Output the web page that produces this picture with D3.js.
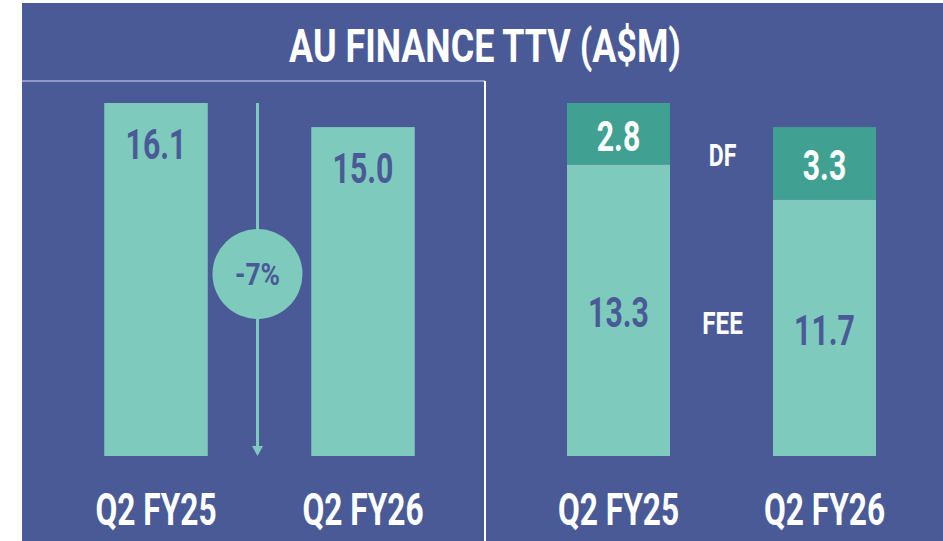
<!DOCTYPE html>
<html lang="en">
<head>
    <meta charset="UTF-8">
    <title>AU Finance TTV (A$M)</title>
    <script src="https://d3js.org/d3.v7.min.js"></script>
    <style>
        body { margin: 0; background: #fff; }
        svg { display: block; }
        text { font-family: Roboto, "DejaVu Sans", sans-serif; font-weight: 700; }
    </style>
</head>
<body>
    <svg id="chart"></svg>
    <script>
        // data
        var periods = ["Q2 FY25", "Q2 FY26"];
        var totalTTV = [16.1, 15.0];
        var feeTTV = [13.3, 11.7];
        var dfTTV = [2.8, 3.3];
        var changeLabel = "-7%";
        var titleText = "AU FINANCE TTV (A$M)";

        var width = 943, height = 541;
        var bg = "#4a5a96", light = "#7ecbbd", dark = "#40a193";

        var svg = d3.select("#chart")
                    .attr("width", width)
                    .attr("height", height);

        svg.append("rect")
           .attr("x", 22).attr("y", 3)
           .attr("width", width - 22).attr("height", height - 3)
           .attr("fill", bg);

        // condensed text helper
        function label(x, y, txt, size, fill, sx) {
            svg.append("text")
               .attr("transform", "translate(" + x + "," + y + ") scale(" + (sx || 0.72) + ",1)")
               .attr("text-anchor", "middle")
               .attr("font-size", size + "px")
               .attr("fill", fill)
               .text(txt);
        }

        label(485, 62, titleText, 46, "#fff", 0.78);

        // panel borders
        svg.append("line")
           .attr("x1", 22).attr("x2", 485).attr("y1", 81).attr("y2", 81)
           .attr("stroke", "#a7aed6").attr("stroke-width", 1.5);
        svg.append("line")
           .attr("x1", 485).attr("x2", 485).attr("y1", 81).attr("y2", height)
           .attr("stroke", "#fff").attr("stroke-width", 2);

        var y = d3.scaleLinear().domain([0, 16.1]).range([456, 103]);

        var xLeft = d3.scaleBand().domain(periods).range([52.5, 466.5])
                      .paddingInner(0.5).paddingOuter(0.25);
        var xRight = d3.scaleBand().domain(periods).range([515.5, 927.5])
                       .paddingInner(0.5).paddingOuter(0.25);

        // left: totals
        periods.forEach(function(p, i) {
            svg.append("rect")
               .attr("x", xLeft(p)).attr("y", y(totalTTV[i]))
               .attr("width", xLeft.bandwidth())
               .attr("height", y(0) - y(totalTTV[i]))
               .attr("fill", light);
            label(xLeft(p) + xLeft.bandwidth() / 2, y(totalTTV[i]) + 56,
                  totalTTV[i].toFixed(1), 42, bg);
            label(xLeft(p) + xLeft.bandwidth() / 2, 525, p, 44, "#fff");
        });

        // change arrow
        var ax = (xLeft(periods[0]) + xLeft.bandwidth() + xLeft(periods[1])) / 2 - 2;
        svg.append("line")
           .attr("x1", ax).attr("x2", ax)
           .attr("y1", y(totalTTV[0])).attr("y2", y(0) - 8)
           .attr("stroke", light).attr("stroke-width", 3);
        svg.append("path")
           .attr("d", "M" + (ax - 5.5) + "," + (y(0) - 10) + "L" + (ax + 5.5) + "," + (y(0) - 10) + "L" + ax + "," + y(0) + "Z")
           .attr("fill", light);
        svg.append("circle")
           .attr("cx", ax).attr("cy", y(8.3)).attr("r", 45)
           .attr("fill", light);
        label(ax, y(8.3) + 11, changeLabel, 31, bg, 0.85);

        // right: stacked fee + df
        periods.forEach(function(p, i) {
            var x0 = xRight(p), bw = xRight.bandwidth();
            svg.append("rect")
               .attr("x", x0).attr("y", y(feeTTV[i]))
               .attr("width", bw).attr("height", y(0) - y(feeTTV[i]))
               .attr("fill", light);
            svg.append("rect")
               .attr("x", x0).attr("y", y(feeTTV[i] + dfTTV[i]))
               .attr("width", bw).attr("height", y(feeTTV[i]) - y(feeTTV[i] + dfTTV[i]))
               .attr("fill", dark);
            label(x0 + bw / 2, (y(feeTTV[i]) + y(0)) / 2 + 17, feeTTV[i].toFixed(1), 42, bg);
            label(x0 + bw / 2, (y(feeTTV[i]) + y(feeTTV[i] + dfTTV[i])) / 2 + 17, dfTTV[i].toFixed(1), 42, "#fff");
            label(x0 + bw / 2, 525, p, 44, "#fff");
        });

        // segment names between the bars
        var lx = (xRight(periods[0]) + xRight.bandwidth() + xRight(periods[1])) / 2 + 1;
        label(lx, 166, "DF", 32, "#fff");
        label(lx, 334, "FEE", 32, "#fff", 0.76);
    </script>
</body>
</html>
